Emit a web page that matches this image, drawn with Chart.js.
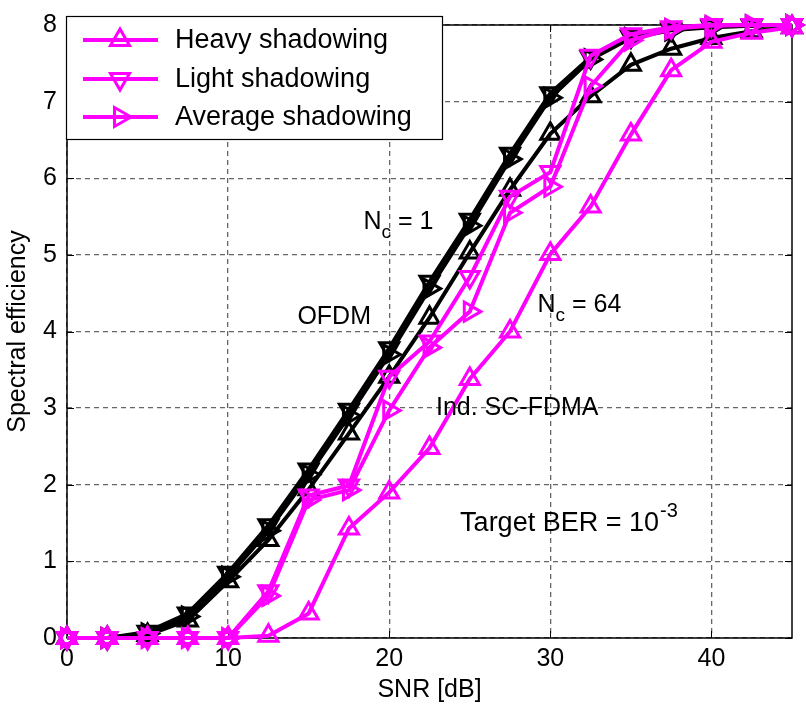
<!DOCTYPE html>
<html>
<head>
<meta charset="utf-8">
<script src="https://cdn.jsdelivr.net/npm/chart.js@4/dist/chart.umd.min.js"></script>
<style>
  html, body { margin: 0; padding: 0; background: #fff; }
  canvas { display: block; }
</style>
</head>
<body>
<canvas id="chart" width="806" height="707"></canvas>
<script>
(() => {
  "use strict";

  // ── data ──────────────────────────────────────────────────────────
  const snr = [0, 2.5, 5, 7.5, 10, 12.5, 15, 17.5, 20, 22.5, 25, 27.5, 30, 32.5, 35, 37.5, 40, 42.5, 45];

  // Ind. SC-FDMA, Nc = 64 (magenta)
  const scHeavy   = [0, 0, 0, 0, 0, 0.03, 0.32, 1.43, 1.9, 2.48, 3.38, 4.0, 5.01, 5.63, 6.57, 7.41, 7.78, 7.9, 7.97];
  const scLight   = [0, 0, 0, 0, 0, 0.61, 1.86, 1.99, 3.41, 3.87, 4.71, 5.76, 6.08, 7.6, 7.88, 7.97, 8, 8, 8];
  const scAverage = [0, 0, 0, 0, 0, 0.55, 1.8, 1.93, 2.97, 3.79, 4.26, 5.55, 5.89, 7.2, 7.8, 7.95, 7.99, 8, 8];

  // OFDM, Nc = 1 (black)
  const ofdmHeavy   = [0, 0, 0.04, 0.23, 0.74, 1.28, 1.94, 2.67, 3.41, 4.18, 5.03, 5.85, 6.58, 7.07, 7.48, 7.69, 7.83, 7.92, 7.97];
  const ofdmLight   = [0, 0, 0.08, 0.32, 0.85, 1.47, 2.2, 2.98, 3.78, 4.65, 5.46, 6.32, 7.11, 7.58, 7.85, 7.94, 7.98, 7.99, 8];
  const ofdmAverage = [0, 0, 0.06, 0.28, 0.8, 1.4, 2.13, 2.9, 3.7, 4.56, 5.38, 6.25, 7.05, 7.55, 7.83, 7.93, 7.97, 7.99, 8];

  const xTicks = [0, 10, 20, 30, 40];
  const yTicks = [0, 1, 2, 3, 4, 5, 6, 7, 8];
  const legendLabels = ["Heavy shadowing", "Light shadowing", "Average shadowing"];

  const MAGENTA = "#ff00ff";
  const FONT = "'Liberation Sans', Arial, Helvetica, sans-serif";
  const NONE = "rgba(0,0,0,0)";

  const toXY = (ys) => ys.map((y, i) => ({ x: snr[i], y }));

  const series = (label, ys, color, rotation) => ({
    label,
    data: toXY(ys),
    borderColor: color,
    backgroundColor: NONE,
    borderWidth: 4,
    pointStyle: "triangle",
    pointRotation: rotation,
    pointRadius: 11,
    pointHoverRadius: 11,
    pointBorderWidth: 3,
    pointBorderColor: color,
    pointBackgroundColor: NONE,
    tension: 0,
    clip: false,
  });

  // dataset 0 is drawn on top, so magenta goes first (also legend order)
  const datasets = [
    series(legendLabels[0], scHeavy, MAGENTA, 0),
    series(legendLabels[1], scLight, MAGENTA, 180),
    series(legendLabels[2], scAverage, MAGENTA, 90),
    series("OFDM heavy", ofdmHeavy, "#000", 0),
    series("OFDM light", ofdmLight, "#000", 180),
    series("OFDM average", ofdmAverage, "#000", 90),
  ];

  // ── box, inward ticks, texts and inner legend ─────────────────────
  const decor = {
    id: "decor",
    beforeDatasetsDraw(chart) {
      const { ctx, chartArea: a, scales } = chart;
      ctx.save();
      ctx.strokeStyle = "#000";
      ctx.lineWidth = 1;
      ctx.setLineDash([]);
      const t = 7;
      ctx.beginPath();
      xTicks.forEach((v) => {
        const px = Math.round(scales.x.getPixelForValue(v)) + 0.5;
        ctx.moveTo(px, a.bottom); ctx.lineTo(px, a.bottom - t);
        ctx.moveTo(px, a.top); ctx.lineTo(px, a.top + t);
      });
      yTicks.forEach((v) => {
        const py = Math.round(scales.y.getPixelForValue(v)) + 0.5;
        ctx.moveTo(a.left, py); ctx.lineTo(a.left + t, py);
        ctx.moveTo(a.right, py); ctx.lineTo(a.right - t, py);
      });
      ctx.stroke();
      ctx.lineWidth = 1.5;
      ctx.strokeRect(a.left, a.top, a.right - a.left, a.bottom - a.top);
      ctx.restore();
    },
    afterDraw(chart) {
      const { ctx, scales } = chart;
      const X = (v) => scales.x.getPixelForValue(v);
      const Y = (v) => scales.y.getPixelForValue(v);
      ctx.save();
      ctx.fillStyle = "#000";
      ctx.textBaseline = "alphabetic";
      ctx.textAlign = "left";

      const big = "25px " + FONT;
      const small = "19px " + FONT;

      // "N_c = ..." with subscript
      const withSub = (x, y, main, sub, rest) => {
        ctx.font = big;
        ctx.fillText(main, x, y);
        let cx = x + ctx.measureText(main).width;
        ctx.font = small;
        ctx.fillText(sub, cx, y + 9);
        cx += ctx.measureText(sub).width;
        ctx.font = big;
        ctx.fillText(rest, cx, y);
      };

      withSub(X(18.4), Y(5.34), "N", "c", " = 1");
      withSub(X(29.2), Y(4.26), "N", "c", " = 64");

      ctx.font = big;
      ctx.fillText("OFDM", X(14.3), Y(4.1));
      ctx.fillText("Ind. SC-FDMA", X(22.9), Y(2.91));

      const tx = X(24.4), ty = Y(1.4);
      const base = "Target BER = 10";
      ctx.font = "27px " + FONT;
      ctx.fillText(base, tx, ty);
      const w = ctx.measureText(base).width;
      ctx.font = "20px " + FONT;
      ctx.fillText("-3", tx + w + 1, ty - 14);

      // legend box (top-left, inside the axes)
      const lx = 66, ly = 16, lw = 376, lh = 123;
      ctx.fillStyle = "#fff";
      ctx.fillRect(lx, ly, lw, lh);
      ctx.strokeStyle = "#000";
      ctx.lineWidth = 1.2;
      ctx.strokeRect(lx + 0.5, ly + 0.5, lw, lh);

      const rows = [40, 79, 117];
      rows.forEach((ry, i) => {
        const ds = chart.data.datasets[i];
        ctx.strokeStyle = ds.borderColor;
        ctx.lineWidth = ds.borderWidth;
        ctx.beginPath();
        ctx.moveTo(83, ry);
        ctx.lineTo(158, ry);
        ctx.stroke();
        ctx.lineWidth = ds.pointBorderWidth;
        ctx.fillStyle = NONE;
        Chart.helpers.drawPoint(ctx, {
          pointStyle: ds.pointStyle,
          rotation: ds.pointRotation,
          radius: ds.pointRadius,
          borderWidth: ds.pointBorderWidth,
        }, 120, ry);
        ctx.fillStyle = "#000";
        ctx.font = "27px " + FONT;
        ctx.textBaseline = "middle";
        ctx.fillText(ds.label, 175, ry + 1);
      });
      ctx.restore();
    },
  };

  const tickFont = { family: FONT, size: 25 };

  new Chart(document.getElementById("chart"), {
    type: "line",
    data: { datasets },
    plugins: [decor],
    options: {
      responsive: false,
      animation: false,
      devicePixelRatio: 1,
      layout: { padding: { top: 16, right: 13, left: 0, bottom: 0 } },
      plugins: {
        legend: { display: false },
        tooltip: { enabled: false },
      },
      scales: {
        x: {
          type: "linear",
          min: 0,
          max: 45,
          afterBuildTicks: (s) => { s.ticks = xTicks.map((v) => ({ value: v })); },
          afterFit: (s) => { s.height = 69; },
          ticks: { color: "#000", font: tickFont, padding: 6, maxRotation: 0 },
          grid: { color: "#666", lineWidth: 1.3, drawTicks: false },
          border: { display: false, dash: [5, 4] },
          title: {
            display: true,
            text: "SNR [dB]",
            color: "#000",
            font: { family: FONT, size: 25 },
            padding: { top: 0, bottom: 2 },
          },
        },
        y: {
          type: "linear",
          min: 0,
          max: 8,
          afterBuildTicks: (s) => { s.ticks = yTicks.map((v) => ({ value: v })); },
          afterFit: (s) => { s.width = 67; },
          ticks: { color: "#000", font: tickFont, padding: 10 },
          grid: { color: "#666", lineWidth: 1.3, drawTicks: false },
          border: { display: false, dash: [5, 4] },
          title: {
            display: true,
            text: "Spectral efficiency",
            color: "#000",
            font: { family: FONT, size: 25 },
            padding: { top: 3, bottom: 0 },
          },
        },
      },
    },
  });
})();
</script>
</body>
</html>
